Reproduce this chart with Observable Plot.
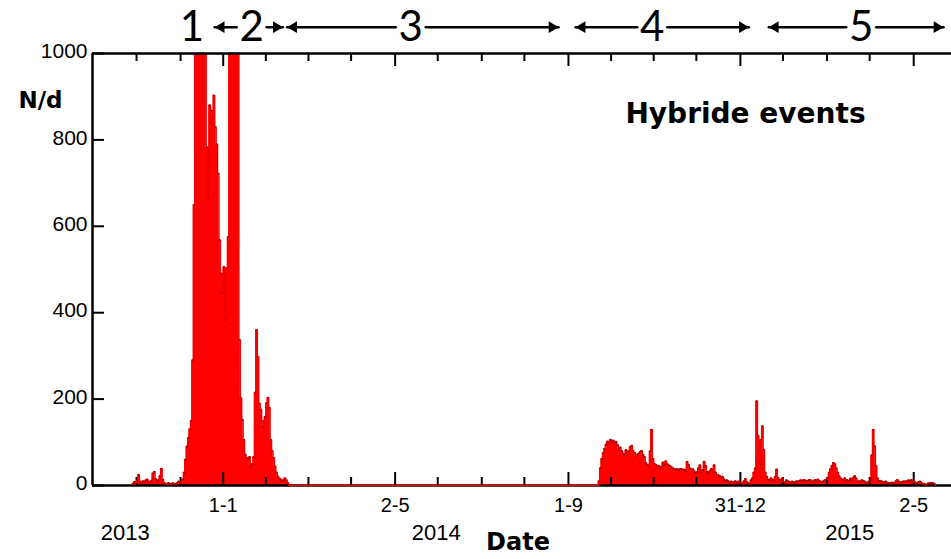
<!DOCTYPE html>
<html>
<head>
<meta charset="utf-8">
<script src="https://cdn.jsdelivr.net/npm/d3@7"></script>
<script src="https://cdn.jsdelivr.net/npm/@observablehq/plot@0.6"></script>
<style>
  html, body { margin: 0; padding: 0; background: #fff; }
</style>
</head>
<body>
<div id="chart"></div>
<script>
// ---------------- DATA ----------------
// Daily counts of hybrid events (N per day), first active period
const startA = "2013-10-29";
const countsA = [
  4, 8, 5, 12, 25, 9, 6, 10, 8, 12,
  14, 9, 7, 11, 28, 32, 15, 9, 13, 22,
  39, 14, 6, 4, 3, 6, 4, 3, 5, 4,
  3, 6, 9, 5, 8, 14, 30, 60, 90, 110,
  130, 150, 290, 650, 1400, 1800, 2200, 2600, 2400, 2100,
  1900, 1500, 783, 665, 880, 868, 850, 903, 830, 790,
  722, 568, 491, 446, 506, 383, 503, 575, 1300, 1800,
  2200, 2000, 1800, 1600, 1400, 337, 203, 152, 106, 72,
  64, 60, 66, 44, 50, 66, 215, 360, 298, 190,
  176, 150, 136, 159, 191, 203, 180, 106, 80, 64,
  44, 30, 21, 16, 14, 10, 13, 17, 12, 6,
  0
];
// Second active period
const startB = "2014-09-21";
const countsB = [
  0,
  10, 40, 62, 75, 85, 95, 102, 98, 106, 100,
  104, 98, 101, 94, 85, 88, 80, 74, 72, 82,
  70, 80, 89, 92, 80, 76, 68, 72, 74, 78,
  80, 71, 66, 52, 48, 42, 79, 129, 62, 50,
  48, 44, 46, 40, 44, 53, 48, 56, 50, 47,
  45, 42, 40, 38, 37, 38, 36, 38, 38, 36,
  37, 34, 55, 48, 40, 36, 38, 33, 29, 31,
  40, 47, 30, 36, 55, 46, 32, 28, 33, 38,
  28, 47, 30, 25, 24, 22, 18, 20, 14, 11,
  12, 10, 6, 9, 8, 4, 10, 6, 9, 7,
  6, 3, 10, 15, 8, 6, 3, 12, 17, 30,
  40, 195, 115, 50, 106, 137, 83, 30, 20, 14,
  12, 17, 14, 12, 20, 37, 18, 14, 12, 16,
  8, 5, 12, 10, 8, 7, 9, 5, 8, 10,
  9, 11, 12, 10, 13, 12, 10, 11, 13, 12,
  8, 10, 13, 9, 14, 11, 9, 8, 10, 12,
  14, 18, 30, 38, 46, 52, 50, 40, 30, 22,
  17, 14, 12, 17, 13, 12, 10, 16, 13, 18,
  22, 16, 9, 10, 9, 12, 11, 9, 5, 7,
  9, 14, 70, 129, 91, 45, 17, 10, 11, 9,
  7, 8, 9, 5, 6, 4, 7, 5, 6, 10,
  13, 9, 6, 8, 9, 10, 8, 11, 12, 10,
  13, 8, 9, 6, 5, 8, 9, 6, 3, 4,
  2, 3, 5, 6, 5, 6, 4,
  0
];

const yTicks = [0, 200, 400, 600, 800, 1000];
const majorTickDates = ["2014-01-01", "2014-05-02", "2014-09-01", "2014-12-31", "2015-05-02"];
const majorTickLabels = ["1-1", "2-5", "1-9", "31-12", "2-5"];
const minorTickDates = ["2013-11-01", "2013-12-02", "2014-01-31", "2014-03-02", "2014-04-01",
  "2014-06-01", "2014-07-02", "2014-08-01", "2014-10-01", "2014-10-31", "2014-11-30",
  "2015-01-30", "2015-03-02", "2015-04-01"];
const yearLabels = ["2013", "2014", "2015"];
const yearLabelDates = ["2013-10-24", "2014-05-31", "2015-03-18"];

const phaseNames = ["1", "2", "3", "4", "5"];
const phaseLabelDates = ["2013-12-10", "2014-01-21", "2014-05-13", "2014-10-30", "2015-03-26"];
const phaseStarts = [null, "2013-12-26", "2014-02-15", "2014-09-06", "2015-01-20"];
const phaseEnds = [null, "2014-02-12", "2014-08-25", "2015-01-06", "2015-05-23"];

const xDomain = [new Date("2013-10-01T00:00:00Z"), new Date("2015-05-28T14:24:00Z")];

// ---------------- BUILD ----------------
const dayMs = 864e5;
function toRows(start, values) {
  const t0 = Date.parse(start + "T00:00:00Z");
  return values.map((v, i) => ({date: new Date(t0 + i * dayMs), value: v}));
}
const rows = [...toRows(startA, countsA), ...toRows(startB, countsB)];
const capped = d => Math.min(d.value, 1000);

const D = s => new Date(s + "T00:00:00Z");
const majors = majorTickDates.map(D);
const minors = minorTickDates.map(D);

const arrowSegs = [];
const leftHeads = [];
const rightHeads = [];
phaseNames.forEach((p, i) => {
  if (phaseStarts[i]) {
    arrowSegs.push({from: D(phaseLabelDates[i]), to: D(phaseStarts[i])});
    arrowSegs.push({from: D(phaseLabelDates[i]), to: D(phaseEnds[i])});
    leftHeads.push(D(phaseStarts[i]));
    rightHeads.push(D(phaseEnds[i]));
  }
});

const innerW = 951 - 92 - 0;
const innerH = 559 - 53 - 74;
const YTOP = 1061; // vertical position of the phase annotations (in y units, above the frame)
const boldFont = "'DejaVu Sans', sans-serif";

const chart = Plot.plot({
  width: 951,
  height: 559,
  marginLeft: 92,
  marginRight: 0,
  marginTop: 53,
  marginBottom: 74,
  x: {type: "utc", domain: xDomain, axis: null},
  y: {domain: [0, 1000], axis: null},
  style: {fontFamily: "'Liberation Sans', Arial, sans-serif", background: "#fff", overflow: "visible", color: "#000"},
  marks: [
    // data fill
    Plot.areaY(rows, {x: "date", y: capped, curve: "step-after", fill: "#ff0000"}),
    // frame
    Plot.ruleY([0], {stroke: "#000", strokeWidth: 2.5}),
    Plot.ruleX([xDomain[0]], {stroke: "#000", strokeWidth: 2.5}),
    // ticks (inward)
    Plot.tickY(yTicks, {y: d => d, insetRight: innerW - 12, stroke: "#000", strokeWidth: 2}),
    Plot.tickX(majors, {x: d => d, insetTop: innerH - 13, stroke: "#000", strokeWidth: 2}),
    Plot.tickX(majors, {x: d => d, insetBottom: innerH - 13, stroke: "#000", strokeWidth: 2}),
    Plot.tickX(minors, {x: d => d, insetTop: innerH - 8, stroke: "#000", strokeWidth: 2}),
    Plot.tickX(minors, {x: d => d, insetBottom: innerH - 8, stroke: "#000", strokeWidth: 2}),
    // data outline + markers
    Plot.lineY(rows, {x: "date", y: capped, curve: "step-after", stroke: "#f00000", strokeWidth: 1.5}),
    Plot.ruleY([1000], {stroke: "#000", strokeWidth: 2.5}),
    Plot.dot(rows.filter(d => d.value > 0 && d.value < 1000), {
      x: d => new Date(+d.date + dayMs / 2), y: "value", r: 1, fill: "#b00000"
    }),
    // y tick labels
    Plot.text(yTicks, {y: d => d, text: d => String(d), frameAnchor: "left", textAnchor: "end", dx: -5, dy: -2, fontSize: 21}),
    // x tick labels
    Plot.text(majors, {x: d => d, text: (d, i) => majorTickLabels[i], frameAnchor: "bottom", dy: 26, fontSize: 20}),
    Plot.text(yearLabels, {x: (d, i) => D(yearLabelDates[i]), text: d => d, frameAnchor: "bottom", dy: 54, fontSize: 22}),
    // axis titles
    Plot.text(["Date"], {text: d => d, frameAnchor: "bottom", textAnchor: "middle", dx: -4, dy: 64, fontSize: 24, fontWeight: "bold", fontFamily: boldFont}),
    Plot.text(["N/d"], {text: d => d, frameAnchor: "top-left", textAnchor: "middle", dx: -52, dy: 38, fontSize: 23, fontWeight: "bold", fontFamily: boldFont}),
    Plot.text(["Hybride events"], {text: d => d, frameAnchor: "top-left", textAnchor: "middle", dx: 653, dy: 50, fontSize: 28, fontWeight: "bold", fontFamily: boldFont}),
    // phases
    Plot.arrow(arrowSegs, {x1: "from", x2: "to", y1: YTOP, y2: YTOP, headLength: 0, insetStart: 15, stroke: "#000", strokeWidth: 2.5}),
    Plot.dot(leftHeads, {x: d => d, y: YTOP, symbol: "triangle", rotate: -90, r: 4.3, dx: 6.5, fill: "#000", stroke: null}),
    Plot.dot(rightHeads, {x: d => d, y: YTOP, symbol: "triangle", rotate: 90, r: 4.3, dx: -6.5, fill: "#000", stroke: null}),
    Plot.text(phaseNames, {x: (d, i) => D(phaseLabelDates[i]), y: YTOP, text: d => d, fontSize: 42, fontFamily: "Lato, 'Open Sans', sans-serif"})
  ]
});

document.getElementById("chart").appendChild(chart);
</script>
</body>
</html>
